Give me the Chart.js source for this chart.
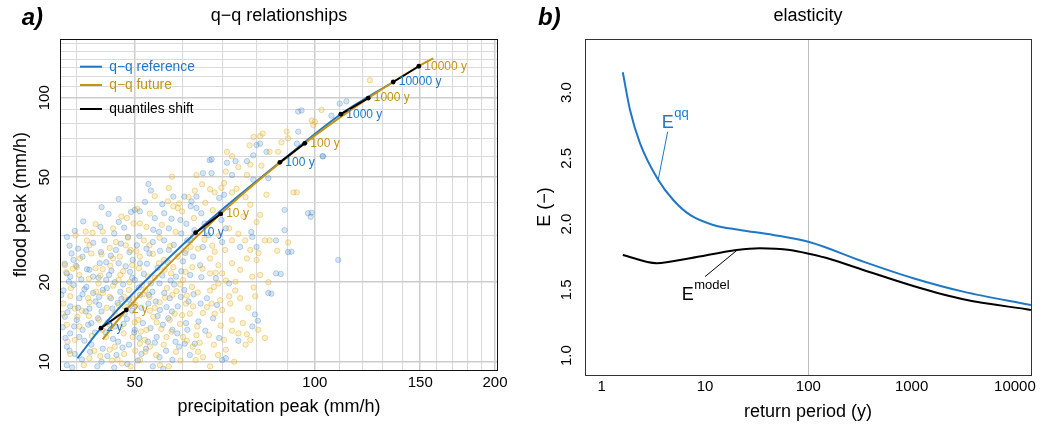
<!DOCTYPE html>
<html>
<head>
<meta charset="utf-8">
<script src="https://cdn.jsdelivr.net/npm/chart.js@4.4.0/dist/chart.umd.min.js"></script>
<style>
  body { margin: 0; background: #fff; }
  #wrap { position: relative; width: 1055px; height: 425px; }
  canvas { position: absolute; top: 0; }
</style>
</head>
<body>
<div id="wrap">
  <canvas id="qq" width="530" height="425" style="left:0"></canvas>
  <canvas id="elast" width="525" height="425" style="left:530px"></canvas>
</div>
<script>
// ---- panel a: q-q relationships ----
// sampled peaks [precipitation, flood], reference period
const obsRef = [
  [87.7,21.5],[84.6,18.1],[79.4,15.1],[80.3,14.3],[78.6,13.6],[74.5,12.0],[69.2,12.3],[65.6,13.1],[67.6,14.6],[66,17.4],
  [68.6,16.4],[71.9,19.8],[68.3,20.7],[64.6,20.9],[71,10.3],[70,10.15],[63,11.7],
  [65,51.8],[67.2,51.8],[72.7,51],[78.9,48.9],[83.6,49.6],[70.5,42.9],[69.2,41.7],[63.4,42.2],[62.2,40.5],[63.4,38.2],
  [64.6,36.5],[65.4,33.4],[69.8,34.4],[71,32],[78.3,31],[78.6,29.7],[79.9,27.2],[75,27.2],[70,28.4],[86.1,28.8],
  [91.4,26.1],[98.8,36.7],[98.4,35.4],[109.4,24.3],[66.4,30.1],[65,27.2],[62.6,25],[64.3,23.2],[62,28.8],
  [95,89.5],[106.6,85.5],[112.9,96.9],[93.8,74.4],[93.3,67],[103.2,60],[81,67],[77,57.5],[78.9,60.5],[73.7,57.5],
  [71.3,56.7],[67.2,58.4],[83,62.4],
  [52.7,47.1],[45.2,36.3],[52,40.3],[51,37.1],[56,36.5],[58,42.2],[60.5,42.2],[62,38.8],[59.6,34.4],[57,32],
  [53.7,31.6],[43.8,32.4],[38.5,29.7],[40.2,26.8],[41.5,26.5],[39.2,25.7],[44.5,28.8],[46.5,26.5],[48.7,29.7],
  [50.4,27.6],[52.3,26.8],[52.9,25.7],[56,28.8],[57,26.5],[61.2,28.8],[49.6,24.3],[51,23.6],[39.5,24.3],[43.7,23.6],[47,23.6],
  [38.5,21.6],[39.5,19.5],[41.5,19.2],[42.6,18.2],[44.2,18.7],[45.6,17.4],[47.3,18.4],[48.9,17.2],[51,17.9],[52.7,16.6],
  [55.1,15.7],[57.2,17.4],[59,16.2],[60.5,18.7],[39,16.2],[38.2,14.8],[40,14.4],[41.4,15.5],[42.3,14.0],[39,12.8],
  [40.4,12.4],[38.5,11.4],[39.7,10.7],[42.3,11.6],[44.2,11.2],[46,12.2],[46.6,10.6],[48.9,11.6],[50,13.2],[51.6,14.0],
  [54.4,12.4],[55.7,13.8],[57.8,13.2],[59.3,11.4],[55,10.4],[51.3,10.7],[43.3,9.6],[38.5,9.7],[57.8,10.15],[60.9,14.0],
  [48.1,15.2],[43.6,16.4],[40.4,17.4],[37.7,17.9],[44.8,20.4],[50,20.4],[55,19.8],[58.6,21.0],[42.6,21.0],
  [38.8,20.1],[40.9,18.0],[43.0,16.9],[44.9,19.0],[46.8,16.7],[47.9,13.9],[49.5,15.6],[50.8,19.1],[53.5,18.4],[54.6,14.9],
  [56.5,16.1],[58.2,19.6],[61.5,16.9],[39.6,13.6],[41.2,12.0],[42.9,12.9],[45.1,14.1],[46.9,11.9],[49.9,12.9],[52.6,11.9],
  [56.4,11.0],[60.6,11.7],[38.9,11.0],[44.0,10.0],[48.6,9.8],[53.6,9.6],[41.6,22.4],[45.7,22.1],[49.1,21.9],[54.6,22.7],[39.9,23.1],
  [50,37.6],[66.7,58],[79.9,66.2],[93.8,88.6],[103,60],[97.4,36.5],[89,31.5],[90.2,26],[86.1,21.6],[83.6,18.2],[89,37.6],[110,95],
  [40.8,10.2],[42.1,10.9],[45.0,10.5],[47.7,11.3],[50.6,10.1],[52.2,11.2],[54.0,11.8],[58.5,11.9],[61.8,10.6],[39.3,9.5],
  [46.2,9.5],[55.8,9.4],[38.3,12.3],[40.9,13.2],[43.4,14.6],[44.7,12.9],[46.3,13.6],[48.5,14.5],[50.9,12.3],[53.1,13.4],
  [56.9,14.6],[58.9,12.8],[61.2,13.2],[63.9,14.2],[37.9,13.5],[41.8,13.8],[38.6,15.4],[40.2,16.0],[42.0,15.9],[44.0,15.5],
  [45.9,15.9],[47.5,17.3],[49.2,16.4],[51.3,16.0],[52.8,17.9],[54.2,16.9],[56.0,18.2],[57.7,15.5],[59.7,17.6],[62.7,18.0],
  [64.4,16.6],[38.0,18.6],[41.2,18.8],[43.6,17.6],[39.0,21.0],[40.7,20.5],[42.0,22.3],[43.5,20.8],[45.3,21.3],[46.3,20.0],
  [47.8,19.6],[49.5,20.8],[51.8,21.5],[53.2,19.8],[55.6,21.2],[57.4,20.3],[59.8,22.0],[61.9,21.3],[38.2,23.5],[44.8,23.8],
  [48.3,23.0],[52.4,23.5],[56.8,23.8],[60.2,24.0],[38.9,27.5],[40.9,25.0],[42.6,28.2],[43.9,26.0],[45.6,25.2],[47.4,28.0],
  [49.0,26.0],[50.9,29.9],[53.6,28.4],[55.1,26.3],[58.1,27.7],[59.8,30.6],[62.9,31.5],[39.7,31.3],[46.2,30.6],[48.0,32.2],
  [54.9,31.0],[60.7,25.8],[41.0,34.0],[47.0,33.8],[49.3,36.9],[54.0,35.0],[55.6,39.5],[57.6,34.8],[61.0,33.3],[53.2,44.5],
  [47.0,41.3],[44.0,38.5]
];
// sampled peaks [precipitation, flood], future period
const obsFut = [
  [81,21.3],[79,19.1],[79.5,17.7],[75,17.4],[72.2,16.6],[72.7,14.4],[72.7,13.1],[74.5,12.8],[77,12.7],[82.5,12.3],
  [76.6,11.6],[71,11.1],[67.8,11.6],[66.8,9.6],[65,10.4],[63.8,10.9],[63.2,10.15],[68.3,21.7],[70,21.6],[66.8,21.6],
  [71,20.3],[73.7,20.1],[69,19.8],[66.8,18.6],[71.9,17.7],[67.2,16.6],[70,15.7],[68,15.2],[65,15.3],[62.6,16.2],
  [63.4,12.6],[70.5,12.1],[78,12.1],
  [71,52.5],[77,51],[63,44.4],[66.8,45],[68,43.8],[69.8,45.6],[72.7,43.8],[83,42.9],[93.3,43.8],[78,39.3],[81,36],
  [76,35.5],[71.9,32],[79.9,33.8],[69.2,30.1],[72.7,28.8],[84,28.8],[82.5,28.8],[90.2,28.3],[78,26.5],[77,24.6],
  [79.9,24.3],[68,26.1],[66.8,24.6],[69,23.2],[72.7,23.6],[63.8,26.8],[62,27.2],
  [102.6,89.9],[100,81.1],[99.4,78.8],[89.7,74.4],[90.2,70.2],[86.8,62.4],[84,62.4],[81.8,73.2],[87.9,67.8],[77.8,66],
  [71.3,62.4],[72.7,60],[78,55.8],[81.4,55.3],[74.5,54.6],
  [57.7,50.2],[54,42.4],[47.5,35.5],[41.4,31.1],[42.5,30.8],[44.2,31.1],[39.8,30.1],[49.8,33.4],[51,33.4],[52.3,32.4],
  [58,38.8],[59,38.2],[60,37.1],[59.3,39.8],[46.5,28.4],[48.3,27.6],[49.2,26.5],[42,27.6],[42.3,25.7],[46,24.6],
  [49.5,23.2],[51,25],[52.9,27.6],[56,24.3],[59,25],[38.2,23.2],[40,22.8],[44.2,22.4],[58,22.8],
  [40.4,21.3],[43.5,19.8],[47,20.4],[51.4,19.5],[56.6,19.0],[60.2,20.4],[60.9,16.6],[58.3,15.2],[57.2,14.4],[53.7,14.8],
  [50.7,14.4],[49.6,12.4],[51,11.7],[53,11.4],[56.5,12.4],[58.6,10.9],[55.1,9.7],[47.6,9.85],[45.4,11.1],[44.8,12.4],
  [46.3,11.4],[48,10.7],[38,16.6],[39.7,15.9],[38.5,13.8],[40.4,13.6],[42,16.8],[45.4,17.6],[48.9,18.7],[52.9,17.6],
  [55,16.8],[48.1,16.2],[46.3,15.2],[43.6,14.4],[39,10.7],[42,10.3],[51,10.15],[52.3,13.2],[60.2,12.4],[62.3,19.2],
  [39.1,19.0],[41.8,17.4],[44.2,18.2],[46.0,19.4],[48.0,17.6],[50.2,16.4],[52.1,18.6],[54.0,20.8],[57.8,17.9],[61.8,15.2],
  [59.5,13.9],[55.4,13.3],[53.0,15.6],[51.2,13.0],[47.3,13.5],[44.1,13.2],[41.9,14.9],[39.7,12.1],[42.8,11.0],[45.8,10.1],
  [50.1,11.0],[54.3,10.6],[57.0,9.6],[62.5,11.4],[60.8,21.9],[56.1,22.3],[47.8,22.0],[43.0,22.6],[38.4,21.8],
  [63.4,50.9],[79,71],[81,71.5],[98.8,82],[92.1,43.8],[123.6,116.5],
  [41.1,9.7],[43.8,10.5],[46.8,10.2],[49.2,9.6],[52.1,10.9],[55.9,11.6],[59.6,10.1],[61.1,12.0],[64.2,11.8],[68.9,10.6],
  [73.3,10.0],[38.6,11.9],[40.1,14.8],[42.4,12.5],[45.4,13.8],[47.9,12.8],[50.0,14.1],[52.0,12.1],[54.4,14.1],[57.6,13.0],
  [60.0,15.0],[63.6,13.6],[66.5,12.6],[69.6,13.7],[75.8,14.0],[80.4,13.2],[39.0,17.7],[40.8,15.6],[43.1,18.4],[44.9,16.0],
  [47.0,16.4],[49.7,17.3],[51.6,18.0],[54.0,16.0],[56.2,17.5],[58.7,18.5],[61.1,17.8],[63.7,18.3],[66.0,16.1],[69.5,17.1],
  [73.6,18.6],[77.4,16.0],[37.9,15.2],[39.4,22.5],[41.9,20.6],[43.8,21.2],[45.5,23.1],[47.3,21.3],[49.0,20.0],[50.8,22.6],
  [52.6,21.0],[54.9,23.6],[57.5,21.6],[59.6,19.6],[62.4,22.8],[64.9,22.5],[67.8,19.2],[75.0,22.3],[78.6,21.0],[83.6,20.0],
  [40.5,24.6],[41.6,28.8],[44.0,25.5],[45.4,27.0],[47.2,25.0],[48.7,29.5],[50.3,26.2],[51.8,28.8],[53.6,25.6],[55.0,29.5],
  [57.3,27.4],[58.5,31.0],[60.9,26.3],[62.6,30.0],[65.4,29.0],[67.4,27.5],[70.8,26.5],[74.5,30.5],[76.5,28.8],[80.5,25.8],
  [86.5,26.3],[43.0,33.2],[46.0,32.0],[48.5,35.0],[50.5,38.0],[53.0,36.4],[55.5,33.0],[56.8,40.5],[61.5,42.0],[62.8,35.0],
  [65.6,40.0],[67.5,37.5],[70.5,47.5],[74.0,45.2],[76.6,42.0],[64.8,47.0],[57.0,45.5]
];

// fitted q-q curves
const refCurvePrecip = [40.1, 43.9, 63.2, 87.4, 110.5, 135.2];
const refCurveFlood  = [10.3, 13.4, 30.8, 56.9, 86.6, 114.7];
const futCurvePrecip = [44.2, 48.4, 69.6, 96.2, 122.8, 149.2, 157.7];
const futCurveFlood  = [12.15, 15.7, 36.3, 67.2, 99.6, 131.6, 140.9];

// return-period quantiles
const quantLabels = ['2 y', '10 y', '100 y', '1000 y', '10000 y'];
const qRefPrecip = [43.9, 63.2, 87.4, 110.5, 135.2];
const qRefFlood  = [13.4, 30.8, 56.9, 86.6, 114.7];
const qFutPrecip = [48.4, 69.6, 96.2, 122.8, 149.2];
const qFutFlood  = [15.7, 36.3, 67.2, 99.6, 131.6];

const precipGrid = [40, 50, 60, 70, 80, 90, 100, 110, 120, 130, 140, 150, 160, 170, 180, 190, 200];
const precipTicks = [50, 100, 150, 200];
const floodGrid = [10, 20, 30, 40, 50, 60, 70, 80, 90, 100, 110, 120, 130, 140, 150, 160];
const floodTicks = [10, 20, 50, 100];

// ---- panel b: elasticity ----
const periodQQ = [1.6, 1.88, 2.35, 3.53, 4.93, 7.16, 12.0, 21.8, 45.8, 104, 341, 1038, 3163, 14300];
const elastQQ  = [3.155, 2.868, 2.615, 2.336, 2.184, 2.07, 1.994, 1.956, 1.918, 1.862, 1.715, 1.589, 1.487, 1.386];
const periodModel = [1.6, 3.41, 7.16, 20.3, 34, 66.5, 104, 162, 341, 1038, 3163, 14300];
const elastModel  = [1.766, 1.703, 1.741, 1.804, 1.817, 1.804, 1.773, 1.735, 1.652, 1.53, 1.429, 1.348];
const periodTicks = [1, 10, 100, 1000, 10000];
const elastTicks = [1.0, 1.5, 2.0, 2.5, 3.0];

const BLUE = '#1f77c6';
const GOLD = '#c59412';
const FONT = '"Liberation Sans", Arial, Helvetica, sans-serif';

Chart.defaults.font.family = FONT;
Chart.defaults.color = '#000';

const xy = (xs, ys) => xs.map((x, i) => ({x, y: ys[i]}));
const pairs = arr => arr.map(p => ({x: p[0], y: p[1]}));

const shiftSets = quantLabels.map((lab, i) => ({
  label: 'shift ' + lab,
  data: [{x: qRefPrecip[i], y: qRefFlood[i]}, {x: qFutPrecip[i], y: qFutFlood[i]}],
  showLine: true,
  borderColor: '#000',
  borderWidth: 2,
  pointRadius: 2.4,
  pointBackgroundColor: '#000',
  pointBorderWidth: 0,
  order: 1
}));

const qqDecor = {
  id: 'qqDecor',
  afterDatasetsDraw(chart) {
    const {ctx, chartArea: a, scales: {x, y}} = chart;
    ctx.save();
    ctx.font = '12px ' + FONT;
    ctx.textAlign = 'left';
    ctx.textBaseline = 'middle';
    quantLabels.forEach((t, i) => {
      ctx.fillStyle = BLUE;
      ctx.fillText(t, x.getPixelForValue(qRefPrecip[i]) + 5.5, y.getPixelForValue(qRefFlood[i]));
      ctx.fillStyle = GOLD;
      ctx.fillText(t, x.getPixelForValue(qFutPrecip[i]) + 5.5, y.getPixelForValue(qFutFlood[i]));
    });
    // legend
    const rows = [['q\u2212q reference', BLUE, 27.7], ['q\u2212q future', GOLD, 46], ['quantiles shift', '#000', 70]];
    ctx.font = '13.8px ' + FONT;
    rows.forEach(([t, c, dy]) => {
      const yy = a.top + dy;
      ctx.strokeStyle = c;
      ctx.lineWidth = 2;
      ctx.beginPath();
      ctx.moveTo(a.left + 19.3, yy);
      ctx.lineTo(a.left + 41.3, yy);
      ctx.stroke();
      ctx.fillStyle = c;
      ctx.fillText(t, a.left + 48.6, yy);
    });
    // box
    ctx.strokeStyle = '#111';
    ctx.lineWidth = 1;
    ctx.strokeRect(Math.floor(a.left) + 0.5, Math.floor(a.top) + 0.5,
      Math.round(a.right - a.left), Math.round(a.bottom - a.top));
    ctx.restore();
  },
  afterDraw(chart) {
    const ctx = chart.ctx;
    ctx.save();
    ctx.font = 'italic bold 24px ' + FONT;
    ctx.fillStyle = '#000';
    ctx.textBaseline = 'middle';
    ctx.fillText('a)', 21.7, 18);
    ctx.restore();
  }
};

new Chart(document.getElementById('qq'), {
  type: 'scatter',
  data: {
    datasets: [
      {
        label: 'q\u2212q reference',
        data: xy(refCurvePrecip, refCurveFlood),
        showLine: true, borderColor: BLUE, borderWidth: 2, pointRadius: 0,
        cubicInterpolationMode: 'monotone', order: 3
      },
      {
        label: 'q\u2212q future',
        data: xy(futCurvePrecip, futCurveFlood),
        showLine: true, borderColor: GOLD, borderWidth: 2, pointRadius: 0,
        cubicInterpolationMode: 'monotone', order: 2
      },
      ...shiftSets,
      {
        label: 'future sample',
        data: pairs(obsFut),
        pointRadius: 2.7, pointBorderWidth: 0.9,
        backgroundColor: 'rgba(232,184,40,0.22)', borderColor: 'rgba(222,172,30,0.45)',
        order: 10
      },
      {
        label: 'reference sample',
        data: pairs(obsRef),
        pointRadius: 2.7, pointBorderWidth: 0.9,
        backgroundColor: 'rgba(60,130,200,0.2)', borderColor: 'rgba(60,130,200,0.36)',
        order: 11
      }
    ]
  },
  options: {
    responsive: false,
    devicePixelRatio: 1,
    animation: false,
    layout: { padding: { left: 0, right: 32.7, top: 0, bottom: 0 } },
    plugins: {
      legend: { display: false },
      tooltip: { enabled: false },
      title: {
        display: true, text: 'q\u2212q relationships', fullSize: false,
        font: { size: 18, weight: 'normal' }, color: '#000',
        padding: { top: 5.2, bottom: 12.2 }
      }
    },
    scales: {
      x: {
        type: 'logarithmic', min: 37.6, max: 201.8,
        afterBuildTicks: s => { s.ticks = precipGrid.map(v => ({value: v})); },
        afterFit: s => { s.height = 55; },
        border: { display: false },
        grid: {
          drawTicks: false,
          color: c => (c.tick && precipTicks.includes(c.tick.value)) ? '#cdcdcd' : '#dadada',
          lineWidth: c => (c.tick && precipTicks.includes(c.tick.value)) ? 1.5 : 1.1
        },
        ticks: {
          autoSkip: false, maxRotation: 0, padding: 4, font: { size: 15 }, color: '#000',
          callback: v => precipTicks.includes(v) ? String(v) : ''
        },
        title: {
          display: true, text: 'precipitation peak (mm/h)', font: { size: 18 }, color: '#000',
          padding: { top: 0, bottom: 7.5 }
        }
      },
      y: {
        type: 'logarithmic', min: 9.3, max: 166.9,
        afterBuildTicks: s => { s.ticks = floodGrid.map(v => ({value: v})); },
        afterFit: s => { s.width = 60.7; },
        border: { display: false },
        grid: {
          drawTicks: false,
          color: c => (c.tick && floodTicks.includes(c.tick.value)) ? '#cdcdcd' : '#dadada',
          lineWidth: c => (c.tick && floodTicks.includes(c.tick.value)) ? 1.5 : 1.1
        },
        ticks: {
          autoSkip: false, minRotation: 90, maxRotation: 90, crossAlign: 'center',
          padding: 3.2, font: { size: 15 }, color: '#000',
          callback: v => floodTicks.includes(v) ? String(v) : ''
        },
        title: {
          display: true, text: 'flood peak (mm/h)', font: { size: 18 }, color: '#000',
          padding: { top: 10.2, bottom: 0 }
        }
      }
    }
  },
  plugins: [qqDecor]
});

// ---- panel b chart ----
const notes = [
  { sup: 'qq', color: BLUE, at: [3.81, 2.734], from: [4.35, 2.703], to: [3.53, 2.341] },
  { sup: 'model', color: '#000', at: [5.95, 1.4236], from: [10.0, 1.601], to: [20.3, 1.80] }
];

const elastDecor = {
  id: 'elastDecor',
  afterDatasetsDraw(chart) {
    const {ctx, chartArea: a, scales: {x, y}} = chart;
    ctx.save();
    notes.forEach(n => {
      ctx.strokeStyle = n.color;
      ctx.lineWidth = 1;
      ctx.beginPath();
      ctx.moveTo(x.getPixelForValue(n.from[0]), y.getPixelForValue(n.from[1]));
      ctx.lineTo(x.getPixelForValue(n.to[0]), y.getPixelForValue(n.to[1]));
      ctx.stroke();
      const tx = x.getPixelForValue(n.at[0]);
      const ty = y.getPixelForValue(n.at[1]);
      ctx.fillStyle = n.color;
      ctx.textBaseline = 'alphabetic';
      ctx.textAlign = 'left';
      ctx.font = '18px ' + FONT;
      ctx.fillText('E', tx, ty);
      const w = ctx.measureText('E').width;
      ctx.font = '13px ' + FONT;
      ctx.fillText(n.sup, tx + w + 0.5, ty - 10.5);
    });
    ctx.strokeStyle = '#333';
    ctx.lineWidth = 1;
    ctx.strokeRect(Math.floor(a.left) + 0.5, Math.floor(a.top) + 0.5,
      Math.round(a.right - a.left), Math.round(a.bottom - a.top));
    ctx.restore();
  },
  afterDraw(chart) {
    const ctx = chart.ctx;
    ctx.save();
    ctx.font = 'italic bold 24px ' + FONT;
    ctx.fillStyle = '#000';
    ctx.textBaseline = 'middle';
    ctx.fillText('b)', 8, 18);
    ctx.restore();
  }
};

new Chart(document.getElementById('elast'), {
  type: 'scatter',
  data: {
    datasets: [
      {
        label: 'Eqq', data: xy(periodQQ, elastQQ),
        showLine: true, borderColor: BLUE, borderWidth: 2, pointRadius: 0,
        cubicInterpolationMode: 'monotone'
      },
      {
        label: 'Emodel', data: xy(periodModel, elastModel),
        showLine: true, borderColor: '#000', borderWidth: 2, pointRadius: 0,
        cubicInterpolationMode: 'monotone'
      }
    ]
  },
  options: {
    responsive: false,
    devicePixelRatio: 1,
    animation: false,
    layout: { padding: { left: 0, right: 24, top: 0, bottom: 0 } },
    plugins: {
      legend: { display: false },
      tooltip: { enabled: false },
      title: {
        display: true, text: 'elasticity', fullSize: false,
        font: { size: 18, weight: 'normal' }, color: '#000',
        padding: { top: 5.2, bottom: 12.2 }
      }
    },
    scales: {
      x: {
        type: 'logarithmic', min: 0.689, max: 14320,
        afterBuildTicks: s => { s.ticks = periodTicks.map(v => ({value: v})); },
        afterFit: s => { s.height = 50; },
        border: { display: false },
        grid: {
          drawTicks: false,
          color: c => (c.tick && c.tick.value === 100) ? '#bdbdbd' : 'rgba(0,0,0,0)'
        },
        ticks: {
          autoSkip: false, maxRotation: 0, padding: 3, font: { size: 15 }, color: '#000',
          callback: v => String(v)
        },
        title: {
          display: true, text: 'return period (y)', font: { size: 18 }, color: '#000',
          padding: { top: 0, bottom: 2.5 }
        }
      },
      y: {
        min: 0.853, max: 3.408,
        afterBuildTicks: s => { s.ticks = elastTicks.map(v => ({value: v})); },
        afterFit: s => { s.width = 55; },
        border: { display: false },
        grid: { display: false, drawTicks: false },
        ticks: {
          autoSkip: false, minRotation: 90, maxRotation: 90, crossAlign: 'center',
          padding: 7.3, font: { size: 15 }, color: '#000',
          callback: v => v.toFixed(1)
        },
        title: {
          display: true, text: 'E (\u2212)', font: { size: 18 }, color: '#000',
          padding: { top: 4.2, bottom: 0 }
        }
      }
    }
  },
  plugins: [elastDecor]
});
</script>
</body>
</html>
